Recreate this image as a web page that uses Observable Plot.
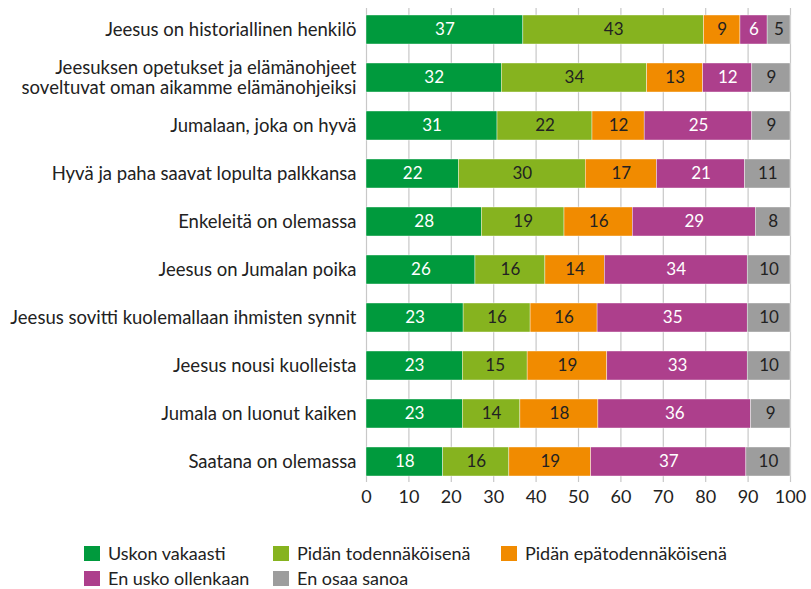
<!DOCTYPE html>
<html>
<head>
<meta charset="utf-8">
<script src="https://cdn.jsdelivr.net/npm/d3@7"></script>
<script src="https://cdn.jsdelivr.net/npm/@observablehq/plot@0.6"></script>
<style>
  html, body { margin: 0; padding: 0; background: #fff; }
  #wrap { position: relative; width: 811px; height: 589px; font-family: Lato, "Open Sans", sans-serif; color: #222; }
  #legend { position: absolute; left: 0; top: 0; width: 811px; }
  .item { position: absolute; display: flex; align-items: center; height: 16px; font-size: 18px; line-height: 1; white-space: nowrap; }
  .sw { width: 16px; height: 15px; margin-right: 8px; flex: none; }
</style>
</head>
<body>
<div id="wrap"><div id="chart"></div><div id="legend"></div></div>
<script>
const categories = [
  "Jeesus on historiallinen henkilö",
  "Jeesuksen opetukset ja elämänohjeet\nsoveltuvat oman aikamme elämänohjeiksi",
  "Jumalaan, joka on hyvä",
  "Hyvä ja paha saavat lopulta palkkansa",
  "Enkeleitä on olemassa",
  "Jeesus on Jumalan poika",
  "Jeesus sovitti kuolemallaan ihmisten synnit",
  "Jeesus nousi kuolleista",
  "Jumala on luonut kaiken",
  "Saatana on olemassa"
];
const series = ["Uskon vakaasti", "Pidän todennäköisenä", "Pidän epätodennäköisenä", "En usko ollenkaan", "En osaa sanoa"];

// Printed (rounded) percentages, as labelled on the bars
const uskonVakaasti = [37, 32, 31, 22, 28, 26, 23, 23, 23, 18];
const pidanTodennakoisena = [43, 34, 22, 30, 19, 16, 16, 15, 14, 16];
const pidanEpatodennakoisena = [9, 13, 12, 17, 16, 14, 16, 19, 18, 19];
const enUskoOllenkaan = [6, 12, 25, 21, 29, 34, 35, 33, 36, 37];
const enOsaaSanoa = [5, 9, 9, 11, 8, 10, 10, 10, 9, 10];

// Bar lengths as measured on the picture (unrounded shares, each row totals 100)
const uskonVakaastiShare = [37.0, 31.9, 30.9, 21.8, 27.2, 25.7, 22.9, 22.7, 22.7, 18.1];
const pidanTodennakoisenaShare = [42.6, 34.3, 22.4, 29.9, 19.5, 16.5, 15.8, 15.3, 13.6, 15.6];
const pidanEpatodennakoisenaShare = [8.6, 13.2, 12.3, 16.8, 16.1, 14.0, 15.8, 18.8, 18.4, 19.3];
const enUskoOllenkaanShare = [6.4, 11.6, 25.4, 20.8, 29.0, 33.7, 35.4, 33.1, 36.0, 36.6];
const enOsaaSanoaShare = [5.4, 9.0, 9.0, 10.7, 8.2, 10.1, 10.1, 10.1, 9.3, 10.4];

const xTicks = [0, 10, 20, 30, 40, 50, 60, 70, 80, 90, 100];
const colors = ["#009a3d", "#86b31f", "#f18b00", "#ad3f8c", "#9d9d9d"];
const whiteText = ["Uskon vakaasti", "En usko ollenkaan"];

const labelValues = [uskonVakaasti, pidanTodennakoisena, pidanEpatodennakoisena, enUskoOllenkaan, enOsaaSanoa];
const shareValues = [uskonVakaastiShare, pidanTodennakoisenaShare, pidanEpatodennakoisenaShare, enUskoOllenkaanShare, enOsaaSanoaShare];
const data = [];
categories.forEach((c, i) => {
  series.forEach((s, j) => data.push({category: c, series: s, share: shareValues[j][i], label: labelValues[j][i]}));
});

const chart = Plot.plot({
  width: 811,
  height: 510,
  marginLeft: 366,
  marginRight: 21,
  marginTop: 8,
  marginBottom: 28,
  style: {fontFamily: "Lato, 'Open Sans', sans-serif", fontSize: "18px", color: "#222", background: "#fff"},
  x: {domain: [0, 100], label: null},
  y: {domain: categories, paddingInner: 0.4, paddingOuter: 0.127, label: null},
  color: {domain: series, range: colors},
  marks: [
    Plot.gridX(xTicks, {stroke: "#c8c8c8", strokeOpacity: 1, strokeWidth: 1.2}),
    Plot.barX(data, Plot.stackX({x: "share", y: "category", fill: "series", z: "series", order: series, stroke: "#fff", strokeWidth: 0.4})),
    Plot.textX(data, Plot.stackX({x: "share", y: "category", z: "series", order: series,
      text: d => whiteText.includes(d.series) ? String(d.label) : "", fill: "#fff", fontSize: 17})),
    Plot.textX(data, Plot.stackX({x: "share", y: "category", z: "series", order: series,
      text: d => whiteText.includes(d.series) ? "" : String(d.label), fill: "#222", fontSize: 17})),
    Plot.axisX(xTicks, {tickSize: 0, tickPadding: 8, fontSize: 18, label: null, fill: "#222"}),
    Plot.axisY({tickSize: 0, tickPadding: 10, fontSize: 18.5, label: null, fill: "#222", lineHeight: 1.08})
  ]
});
document.getElementById("chart").appendChild(chart);

const legendPos = [[84, 553], [273, 553], [501, 553], [84, 578], [273, 578]];
const legend = document.getElementById("legend");
series.forEach((s, i) => {
  const item = document.createElement("div");
  item.className = "item";
  item.style.left = legendPos[i][0] + "px";
  item.style.top = (legendPos[i][1] - 8) + "px";
  const sw = document.createElement("span");
  sw.className = "sw";
  sw.style.background = colors[i];
  const t = document.createElement("span");
  t.textContent = s;
  item.appendChild(sw);
  item.appendChild(t);
  legend.appendChild(item);
});
</script>
</body>
</html>
